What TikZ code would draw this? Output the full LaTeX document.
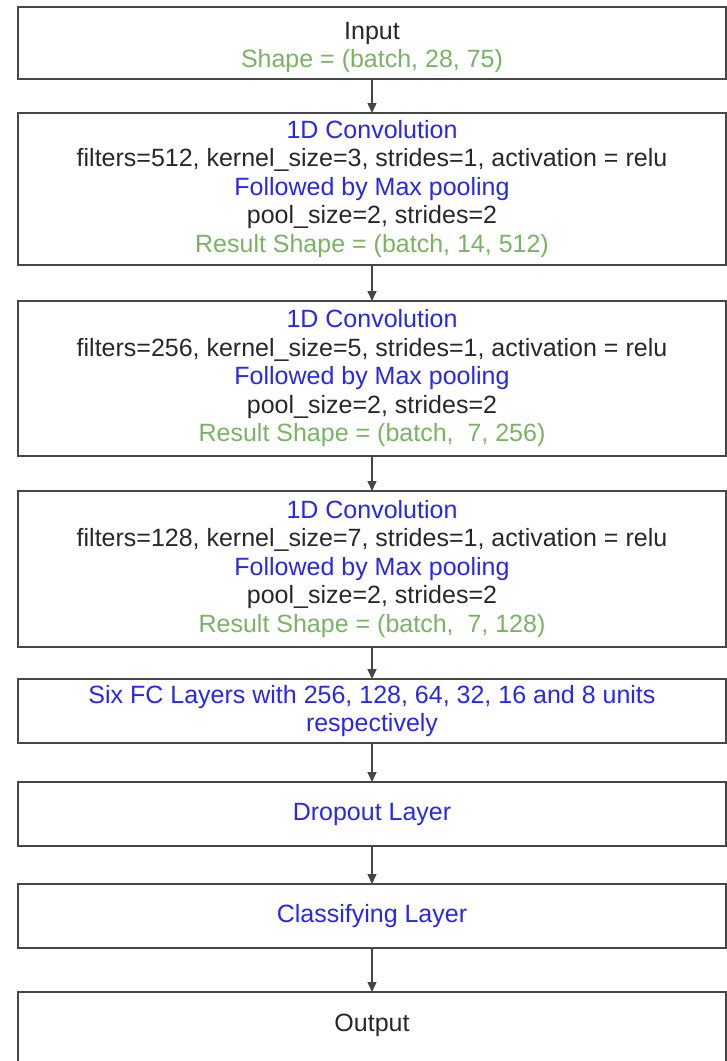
\documentclass[tikz,border=0pt]{standalone}
\usepackage{fontspec}
\setmainfont{Liberation Sans}
\usepackage{xcolor}
\usepackage{tikz}
\usetikzlibrary{arrows.meta, positioning}

\definecolor{boxgray}{RGB}{70,70,70}
\definecolor{txtgray}{RGB}{40,40,40}
\definecolor{layerblue}{RGB}{40,40,235}
\definecolor{shapegreen}{RGB}{120,180,100}

\begin{document}
\begin{tikzpicture}[
            layernode/.style={rectangle, draw=boxgray, line width=1.6pt, fill=white, minimum width=708pt,
                              inner sep=0pt, outer sep=0pt, align=center, text=txtgray,
                              font=\fontsize{25}{28.5}\selectfont},
            flowarrow/.style={-{Triangle[length=10pt, width=9pt]}, line width=1.5pt, draw=boxgray},
            ]
            \useasboundingbox (0pt,0pt) rectangle (727pt,-1061pt);

            \node[layernode, minimum height=72pt]  (in)    at (372pt,-43pt)
                  {\rule{0pt}{26pt}Input\\ \textcolor{shapegreen}{Shape = (batch, 28, 75)}};
            \node[layernode, minimum height=152pt] (conva) [below=34pt of in]
                  {\textcolor{layerblue}{1D Convolution}\\
                   filters=512, kernel\_size=3, strides=1, activation = relu\\
                   \textcolor{layerblue}{Followed by Max pooling}\\
                   pool\_size=2, strides=2\\
                   \textcolor{shapegreen}{Result Shape = (batch, 14, 512)}};
            \node[layernode, minimum height=155pt] (convb) [below=36pt of conva]
                  {\textcolor{layerblue}{1D Convolution}\\
                   filters=256, kernel\_size=5, strides=1, activation = relu\\
                   \textcolor{layerblue}{Followed by Max pooling}\\
                   pool\_size=2, strides=2\\
                   \textcolor{shapegreen}{Result Shape = (batch,\ \ 7, 256)}};
            \node[layernode, minimum height=156pt] (convc) [below=35pt of convb]
                  {\textcolor{layerblue}{1D Convolution}\\
                   filters=128, kernel\_size=7, strides=1, activation = relu\\
                   \textcolor{layerblue}{Followed by Max pooling}\\
                   pool\_size=2, strides=2\\
                   \textcolor{shapegreen}{Result Shape = (batch,\ \ 7, 128)}};
            \node[layernode, minimum height=64pt, text=layerblue] (fc) [below=32pt of convc]
                  {Six FC Layers with 256, 128, 64, 32, 16 and 8 units\\ respectively};
            \node[layernode, minimum height=64pt, text=layerblue] (drop) [below=39pt of fc]
                  {Dropout Layer};
            \node[layernode, minimum height=64pt, text=layerblue] (cls) [below=38pt of drop]
                  {Classifying Layer};
            \node[layernode, text height=39pt, text depth=50pt] (out) [below=44pt of cls]
                  {Output};

            \draw[flowarrow] (in) -- (conva);
            \draw[flowarrow] (conva) -- (convb);
            \draw[flowarrow] (convb) -- (convc);
            \draw[flowarrow] (convc) -- (fc);
            \draw[flowarrow] (fc) -- (drop);
            \draw[flowarrow] (drop) -- (cls);
            \draw[flowarrow] (cls) -- (out);
        \end{tikzpicture}
\end{document}
